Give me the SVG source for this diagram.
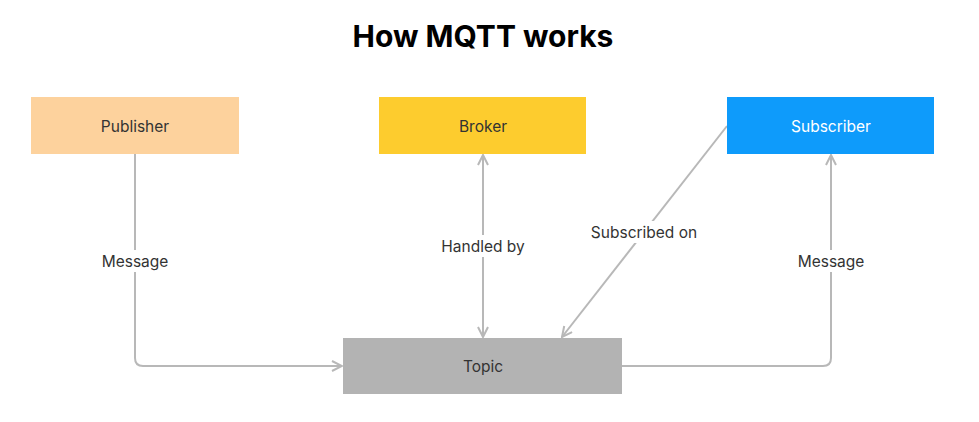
<svg xmlns="http://www.w3.org/2000/svg" width="979" height="422" viewBox="0 0 979 422">
<defs>
<style>
.title{font-family:Inter,"Liberation Sans",sans-serif;font-weight:700;font-size:30px;fill:#000}
.nt{font-family:Inter,"Liberation Sans",sans-serif;font-size:15.5px;fill:#333}
.lb{font-family:Inter,"Liberation Sans",sans-serif;font-size:15.5px;fill:#333}
.edge{fill:none;stroke:#b8b8b8;stroke-width:2}
.bg{fill:#fff}
</style>
<marker id="arr" viewBox="0 0 12 12" refX="11" refY="6" markerWidth="12" markerHeight="12" markerUnits="userSpaceOnUse" orient="auto-start-reverse">
<path d="M1,1 L11,6 L1,11" fill="none" stroke="#b8b8b8" stroke-width="2"/>
</marker>
</defs>
<rect width="979" height="422" fill="#fff"/>
<text class="title" x="483" y="47" text-anchor="middle">How MQTT works</text>
<g id="connectors">
<path class="edge" d="M135,154 V358 Q135,366 143,366 H342" marker-end="url(#arr)"/>
<path class="edge" d="M483,155 V337" marker-start="url(#arr)" marker-end="url(#arr)"/>
<path class="edge" d="M727,126 L562,337" marker-end="url(#arr)"/>
<path class="edge" d="M622,366 H823 Q831,366 831,358 V155" marker-end="url(#arr)"/>
<rect class="bg" x="97" y="250" width="76" height="22"/>
<text class="lb" x="135" y="267" text-anchor="middle">Message</text>
<rect class="bg" x="437" y="235" width="92" height="22"/>
<text class="lb" x="483" y="252" text-anchor="middle">Handled by</text>
<rect class="bg" x="586" y="221" width="116" height="22"/>
<text class="lb" x="644" y="238" text-anchor="middle">Subscribed on</text>
<rect class="bg" x="793" y="250" width="76" height="22"/>
<text class="lb" x="831" y="267" text-anchor="middle">Message</text>
</g>
<g id="publisher">
<rect x="31" y="97" width="208" height="57" fill="#fdd29d"/>
<text class="nt" x="135" y="132" text-anchor="middle">Publisher</text>
</g>
<g id="broker">
<rect x="379" y="97" width="207" height="57" fill="#fdcc2e"/>
<text class="nt" x="483" y="132" text-anchor="middle">Broker</text>
</g>
<g id="subscriber">
<rect x="727" y="97" width="207" height="57" fill="#0e9bfb"/>
<text class="nt" x="831" y="132" text-anchor="middle" style="fill:#fff">Subscriber</text>
</g>
<g id="topic">
<rect x="343" y="338" width="279" height="56" fill="#b3b3b3"/>
<text class="nt" x="483" y="372" text-anchor="middle">Topic</text>
</g>
</svg>
